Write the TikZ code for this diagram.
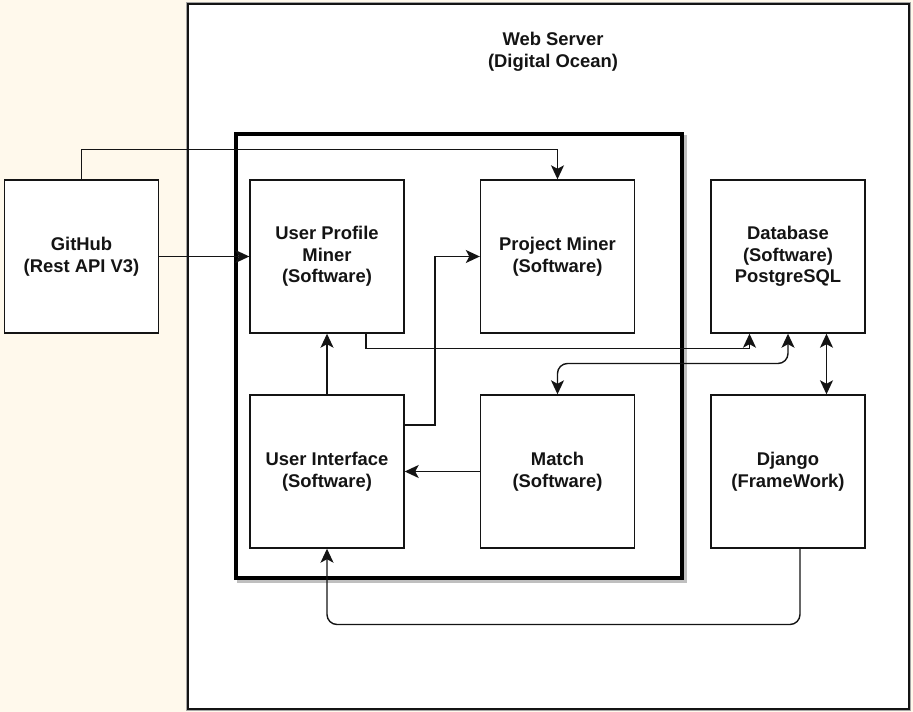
\documentclass[tikz,border=0pt]{standalone}
\usepackage{fontspec}
\setmainfont{Liberation Sans}
\usetikzlibrary{arrows.meta}
\definecolor{cream}{RGB}{255,249,236}
\definecolor{txt}{RGB}{20,20,20}
\begin{document}
\begin{tikzpicture}[x=1pt,y=-1pt,
  box/.style={draw=txt,line width=1.4pt,fill=white,minimum width=154pt,minimum height=153pt,
    font=\fontsize{18.4}{21.5}\selectfont\bfseries,text=txt,align=center,inner sep=0pt},
  conn/.style={draw=txt,line width=1.4pt,-{Stealth[length=14pt,width=13pt,inset=3.5pt]}},
  both/.style={draw=txt,line width=1.4pt,{Stealth[length=14pt,width=13pt,inset=3.5pt]}-{Stealth[length=14pt,width=13pt,inset=3.5pt]}}]
\useasboundingbox (0,0) rectangle (913,712);
\fill[cream] (0,0) rectangle (913,712);
% web server
\draw[gray!70,line width=3.5pt] (188,4) rectangle (909,709);
\draw[fill=white,draw=txt,line width=2pt] (188,4) rectangle (909,709);
\node[font=\fontsize{18.4}{21.5}\selectfont\bfseries,text=txt,align=center] (ws) at (553,52) {Web Server\\(Digital Ocean)};
% thick group box
\draw[draw=black!25,line width=4.5pt] (239,137) rectangle (685,581);
\draw[draw=black,line width=4.5pt,fill=white] (236,134) rectangle (682,578);
% nodes
\node[box] (gh) at (81.5,256.5) {GitHub\\(Rest API V3)};
\node[box] (upm) at (327,256.5) {User Profile\\Miner\\(Software)};
\node[box] (pm) at (557.5,256.5) {Project Miner\\(Software)};
\node[box] (db) at (788,256.5) {Database\\(Software)\\PostgreSQL};
\node[box] (ui) at (327,471.5) {User Interface\\(Software)};
\node[box] (ma) at (557.5,471.5) {Match\\(Software)};
\node[box] (dj) at (788,471.5) {Django\\(FrameWork)};
% connectors
\draw[conn] (gh.north) |- (81.5,149.5) -| (pm.north);
\draw[conn] (gh.east) -- (upm.west);
\draw[conn] ([xshift=39pt]upm.south) |- (749.5,348.5) -- ([xshift=-38.5pt]db.south);
\draw[both,rounded corners=10pt] (ma.north) |- (788,363.5) -- (db.south);
\draw[both] ([xshift=38.5pt]db.south) -- ([xshift=38.5pt]dj.north);
\draw[conn] (ui.north) -- (upm.south);
\draw[conn] ([yshift=46.5pt]ui.east) -| (435,256.5) -- (pm.west);
\draw[conn] (ma.west) -- (ui.east);
\draw[conn,rounded corners=10pt] ([xshift=12pt]dj.south) |- (327,624.5) -- (ui.south);
\end{tikzpicture}
\end{document}
